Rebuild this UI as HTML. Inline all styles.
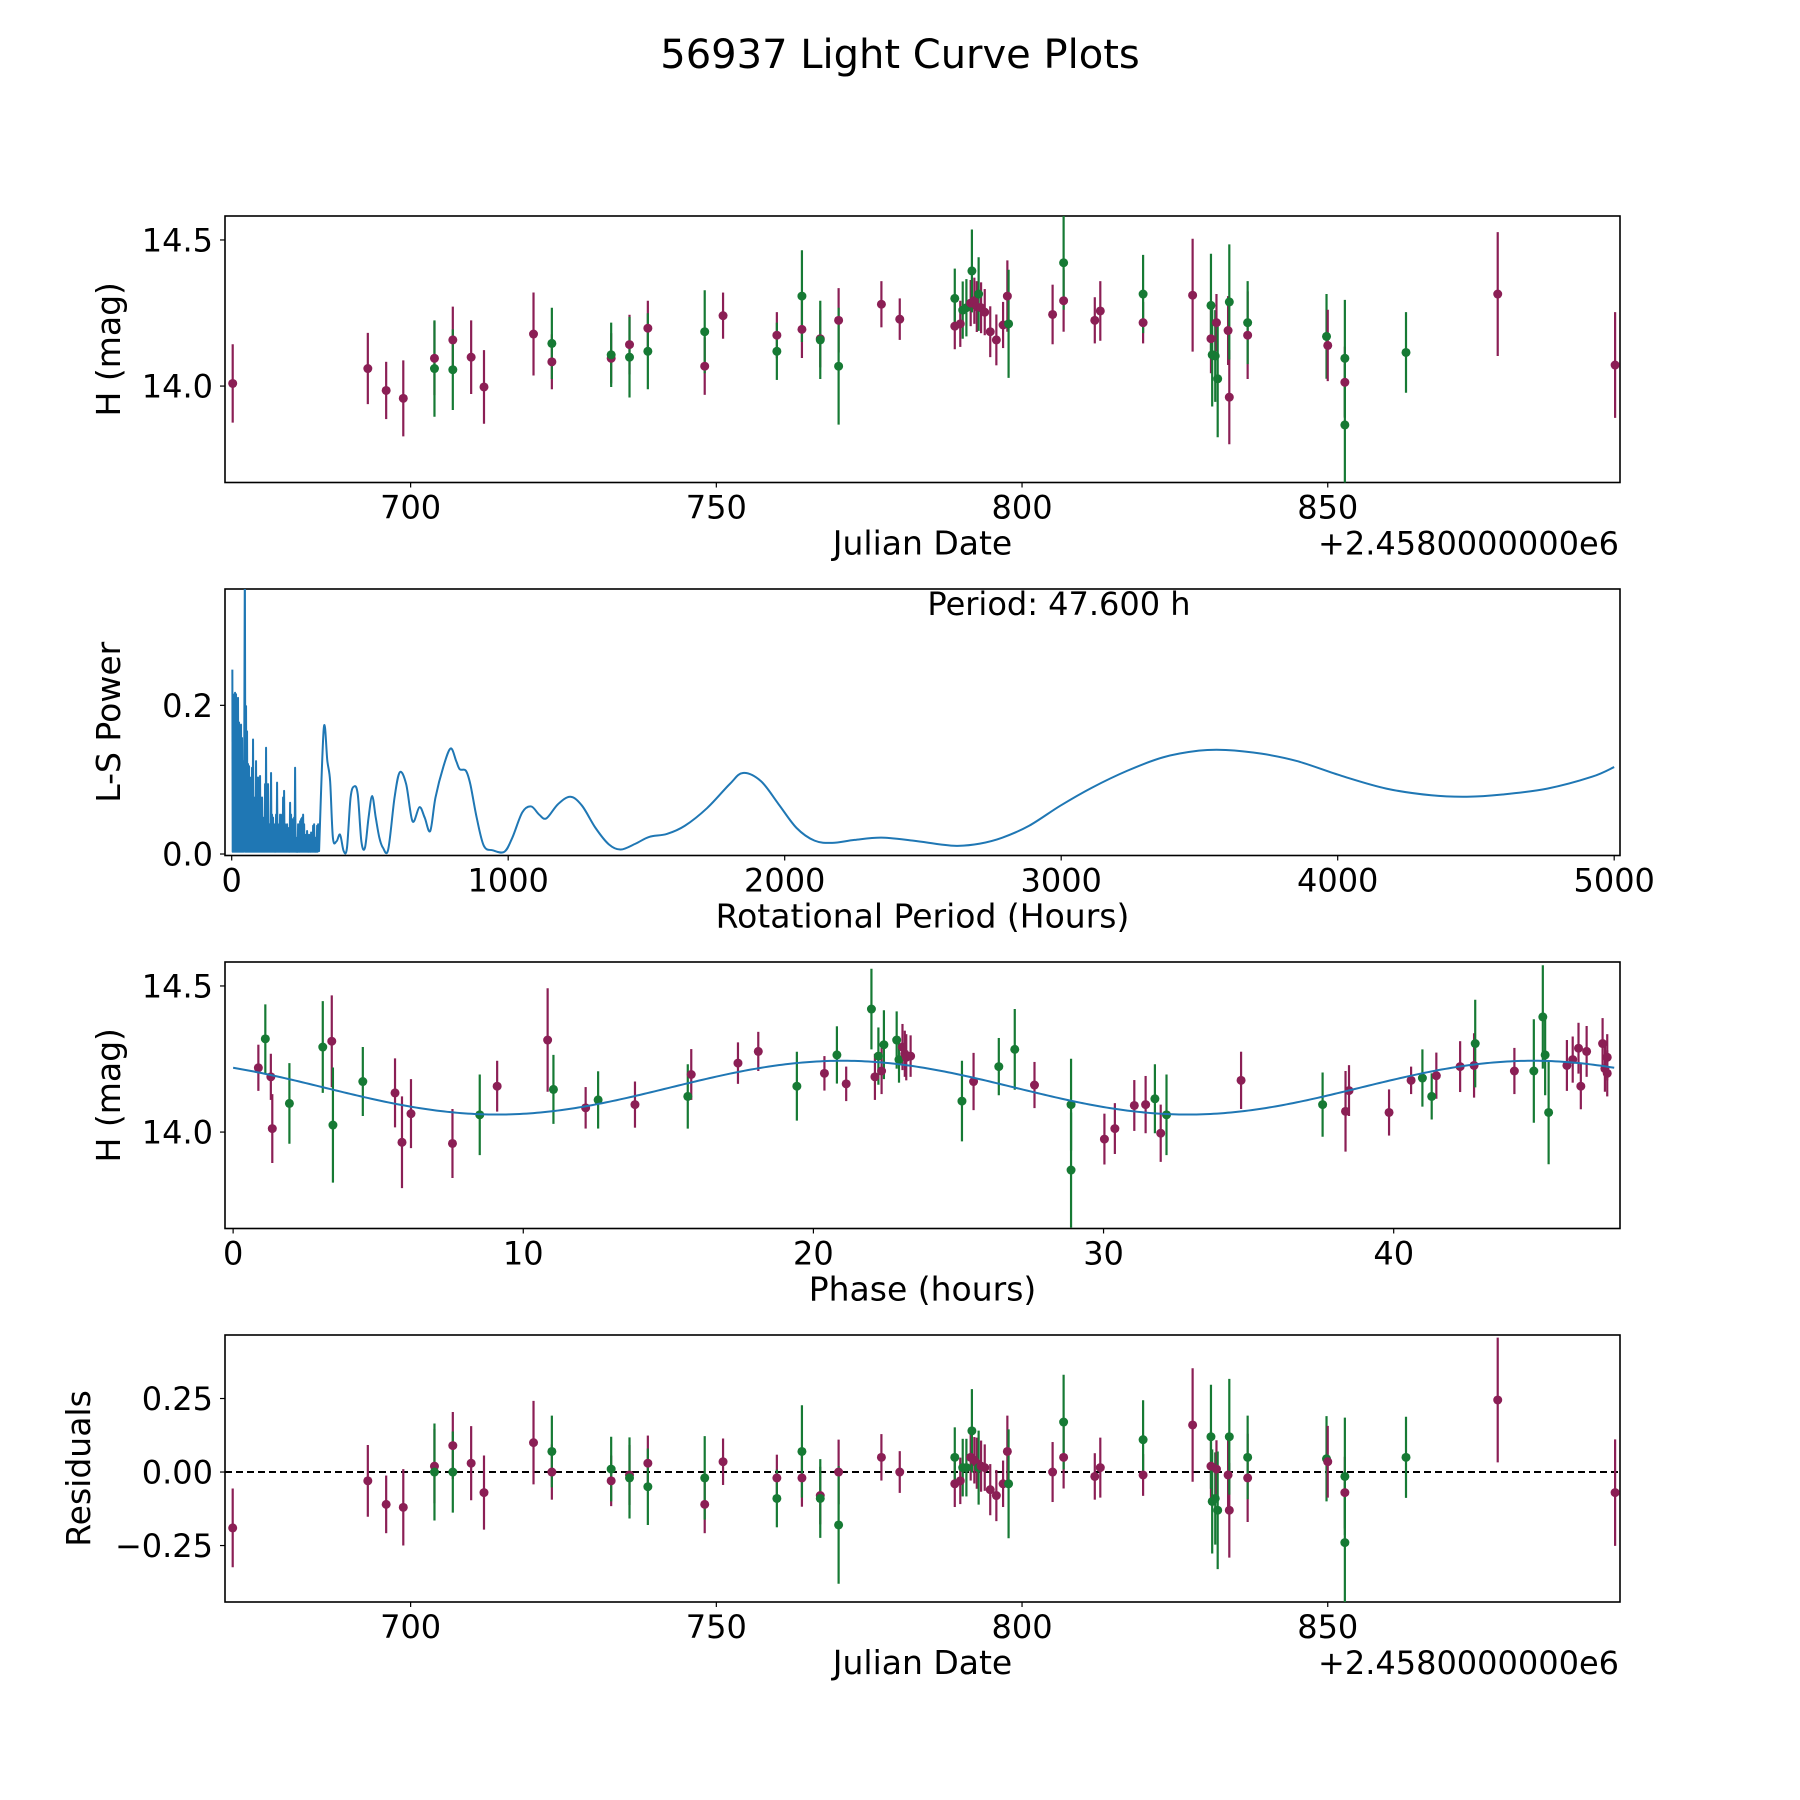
<!DOCTYPE html>
<html><head><meta charset="utf-8"><title>56937 Light Curve Plots</title>
<style>html,body{margin:0;padding:0;background:#fff}svg{display:block}text{font-family:"DejaVu Sans","Liberation Sans",sans-serif;fill:#000}</style>
</head><body>
<svg id="fig" width="1800" height="1800" viewBox="0 0 1800 1800" xmlns="http://www.w3.org/2000/svg">
<rect width="1800" height="1800" fill="#fff"/>
<text x="900" y="68" text-anchor="middle" font-size="40">56937 Light Curve Plots</text>
</svg>
<script>
// ---- Light-curve data (Julian date offset, magnitude, error, filter) ----
const jd = [670.9,693.0,696.0,698.8,703.9,703.9,706.9,706.9,709.9,712.0,720.1,723.1,723.1,732.8,732.8,735.8,735.8,738.8,738.8,748.1,748.1,751.1,759.9,759.9,764.0,764.0,767.0,767.0,770.0,770.0,777.0,780.0,789.0,789.0,789.9,790.3,790.9,791.6,791.8,792.2,792.6,792.9,793.3,793.9,794.8,795.8,796.9,797.6,797.8,805.0,806.8,806.8,811.9,812.8,819.8,819.8,827.9,830.9,830.9,831.1,831.6,831.8,832.0,833.7,833.9,833.9,836.9,836.9,849.8,850.0,852.8,852.8,852.8,862.8,877.8,897.0];
const mag = [14.009,14.060,13.985,13.958,14.095,14.060,14.158,14.056,14.099,13.997,14.178,14.083,14.146,14.095,14.107,14.142,14.099,14.198,14.119,14.068,14.186,14.241,14.174,14.119,14.194,14.308,14.162,14.158,14.225,14.068,14.280,14.229,14.205,14.300,14.213,14.260,14.268,14.284,14.394,14.292,14.272,14.315,14.268,14.253,14.186,14.158,14.209,14.308,14.213,14.245,14.292,14.422,14.225,14.257,14.217,14.315,14.311,14.162,14.276,14.107,14.103,14.217,14.025,14.190,13.962,14.288,14.174,14.217,14.170,14.139,14.013,14.095,13.867,14.115,14.315,14.072];
const magErr = [0.134,0.122,0.098,0.130,0.126,0.165,0.114,0.138,0.126,0.126,0.142,0.094,0.122,0.086,0.110,0.102,0.138,0.094,0.130,0.098,0.142,0.079,0.079,0.098,0.098,0.157,0.098,0.134,0.110,0.200,0.079,0.071,0.079,0.102,0.079,0.098,0.098,0.079,0.142,0.079,0.087,0.126,0.087,0.079,0.087,0.087,0.079,0.122,0.185,0.102,0.106,0.161,0.079,0.102,0.071,0.134,0.193,0.118,0.177,0.177,0.157,0.098,0.200,0.118,0.161,0.197,0.150,0.142,0.145,0.122,0.122,0.200,0.208,0.138,0.212,0.181];
const band = ['p','p','p','p','p','g','p','g','p','p','p','p','g','p','g','p','g','p','g','p','g','p','p','g','p','g','p','g','p','g','p','p','p','g','p','g','g','p','g','p','p','g','p','p','p','p','p','p','g','p','p','g','p','p','p','g','p','p','g','g','g','p','g','p','p','g','p','g','g','p','p','g','g','g','p','p'];
const resid = [-0.19,-0.03,-0.11,-0.12,0.02,0.00,0.09,0.00,0.03,-0.07,0.10,0.00,0.07,-0.03,0.01,-0.01,-0.02,0.03,-0.05,-0.11,-0.02,0.035,-0.02,-0.09,-0.02,0.07,-0.08,-0.09,0.00,-0.18,0.05,0.00,-0.04,0.05,-0.03,0.015,0.015,0.05,0.14,0.04,0.03,0.015,0.02,0.015,-0.06,-0.08,-0.04,0.07,-0.04,0.00,0.05,0.17,-0.015,0.015,-0.01,0.11,0.16,0.02,0.12,-0.10,-0.09,0.01,-0.13,-0.01,-0.13,0.12,-0.02,0.05,0.045,0.035,-0.07,-0.015,-0.24,0.05,0.245,-0.07];

// ---- Periodogram data ----
const noisePeriods = [2.4,4.8,8.4,12.1,15.7,19.3,22.9,26.6,30.2,33.8,37.4,41.0,47.6,51.9,55.5,59.1,62.8,66.4,70.0,73.6,77.2,80.9,84.5,88.1,91.7,95.3,99.0,102.6,106.2,109.8,113.4,117.1,120.7,124.3,127.9,131.5,135.2,138.8,142.4,146.0,149.6,153.3,156.9,160.5,164.1,167.7,171.4,175.0,178.6,182.2,185.9,189.5,193.1,196.7,200.3,204.0,207.6,211.2,214.8,218.4,222.1,225.7,229.3,232.9,236.5,240.2,243.8,247.4,251.0,254.6,258.3,261.9,265.5,269.1,272.7,276.4,280.0,283.6,287.2,290.9,294.5,298.1,301.7,305.3,309.0,312.6];
const noisePower = [0.248,0.215,0.208,0.217,0.215,0.208,0.21,0.177,0.159,0.174,0.156,0.125,0.40,0.199,0.165,0.121,0.118,0.098,0.103,0.116,0.154,0.076,0.044,0.125,0.071,0.103,0.067,0.105,0.049,0.076,0.049,0.044,0.094,0.143,0.049,0.094,0.04,0.04,0.109,0.053,0.049,0.04,0.022,0.053,0.096,0.04,0.035,0.053,0.04,0.053,0.076,0.085,0.04,0.029,0.04,0.035,0.013,0.069,0.053,0.047,0.035,0.049,0.116,0.022,0.004,0.04,0.022,0.044,0.047,0.049,0.053,0.04,0.0085,0.026,0.031,0.017,0.026,0.013,0.029,0.0085,0.038,0.04,0.022,0.011,0.038,0.04];
const noiseFloor = 0.003;
const smoothPeriods = [316,333,346,356,366,379,392,405,417,430,443,456,469,482,495,508,521,534,547,566,589,608,631,654,679,698,718,737,766,792,812,825,847,863,886,912,944,986,1015,1051,1083,1112,1138,1180,1225,1267,1316,1364,1407,1461,1510,1574,1639,1720,1801,1849,1914,1978,2043,2108,2172,2253,2350,2464,2561,2625,2706,2787,2884,2997,3110,3239,3368,3498,3595,3724,3853,4015,4176,4338,4467,4596,4758,4920,5000];
const smoothPower = [0.004,0.169,0.125,0.098,0.022,0.017,0.026,0.004,0.0085,0.076,0.091,0.080,0.017,0.0085,0.049,0.078,0.049,0.022,0.0085,0.006,0.076,0.110,0.094,0.044,0.063,0.049,0.031,0.076,0.118,0.142,0.125,0.114,0.112,0.094,0.049,0.011,0.005,0.003,0.022,0.056,0.064,0.053,0.048,0.067,0.077,0.065,0.035,0.013,0.006,0.014,0.023,0.027,0.038,0.062,0.094,0.109,0.098,0.067,0.035,0.018,0.015,0.019,0.022,0.018,0.013,0.011,0.014,0.022,0.038,0.065,0.089,0.112,0.130,0.139,0.140,0.135,0.125,0.105,0.088,0.079,0.077,0.080,0.088,0.104,0.117];
const bestPeriod = 47.6;

// ---- Phase-folded data ----
const phase = [0.87,1.11,1.3,1.35,1.94,3.09,3.4,3.44,4.47,5.58,5.82,6.13,7.56,8.5,9.1,10.84,11.04,12.15,12.58,13.85,15.67,15.79,17.4,18.1,19.43,20.38,20.81,21.13,22.0,22.12,22.24,22.35,22.43,22.87,22.95,23.07,23.15,23.2,23.35,25.12,25.52,26.39,26.94,27.62,28.88,28.88,30.03,30.39,31.06,31.45,31.77,31.97,32.17,34.74,37.55,38.34,38.46,39.84,40.6,40.99,41.31,41.47,42.29,42.77,42.81,44.16,44.83,45.14,45.22,45.34,45.97,46.17,46.37,46.45,46.65,47.2,47.28,47.36,47.36];
const phaseMag = [14.220,14.319,14.189,14.012,14.098,14.291,14.311,14.024,14.173,14.134,13.965,14.063,13.961,14.059,14.157,14.315,14.146,14.083,14.110,14.094,14.122,14.197,14.236,14.276,14.157,14.201,14.264,14.165,14.421,14.189,14.260,14.209,14.299,14.315,14.248,14.291,14.268,14.256,14.260,14.106,14.173,14.224,14.283,14.161,13.870,14.094,13.976,14.012,14.091,14.094,14.114,13.996,14.059,14.177,14.094,14.071,14.142,14.067,14.177,14.185,14.122,14.193,14.224,14.228,14.303,14.209,14.209,14.394,14.264,14.067,14.228,14.248,14.287,14.157,14.276,14.303,14.217,14.256,14.201];
const phaseErr = [0.079,0.118,0.079,0.118,0.138,0.157,0.157,0.197,0.118,0.118,0.157,0.118,0.118,0.138,0.087,0.177,0.118,0.071,0.098,0.079,0.110,0.087,0.071,0.067,0.118,0.059,0.098,0.059,0.138,0.079,0.098,0.079,0.118,0.098,0.079,0.079,0.079,0.079,0.071,0.138,0.098,0.098,0.138,0.079,0.197,0.157,0.087,0.087,0.087,0.098,0.118,0.098,0.138,0.098,0.110,0.138,0.087,0.079,0.047,0.098,0.079,0.079,0.087,0.110,0.150,0.079,0.177,0.177,0.138,0.177,0.087,0.079,0.087,0.079,0.087,0.087,0.079,0.079,0.079];
const phaseBand = ['p','g','p','p','g','g','p','g','g','p','p','p','p','g','p','p','g','p','g','p','g','p','p','p','g','p','g','p','g','p','g','p','g','g','g','p','p','p','p','g','p','g','g','p','g','g','p','p','p','p','g','p','g','p','g','p','p','p','p','g','g','p','p','p','g','p','g','g','g','g','p','p','p','p','p','p','p','p','p'];
const modelMean = 14.152, modelAmp = 0.092, modelPeriod = 23.8, modelPeak = 21.0;

const NS = 'http://www.w3.org/2000/svg';
const svg = document.getElementById('fig');
const COL = {p:'#8b1f55', g:'#167a34'};
function mk(tag, attrs, parent){const e=document.createElementNS(NS,tag);for(const k in attrs)e.setAttribute(k,attrs[k]);(parent||svg).appendChild(e);return e;}
function txt(s, attrs){const e=mk('text',attrs);e.textContent=s;return e;}

const L=225, R=1620;
const boxes=[{t:216,b:482.5},{t:589,b:855.5},{t:962,b:1228.5},{t:1335,b:1602}];
function lin(d0,d1,p0,p1){return v=>p0+(v-d0)*(p1-p0)/(d1-d0);}
const xJD = lin(669.64,897.8,L,R);
const xPer = lin(-24.2,5021,L,R);
const xPh = lin(-0.28,47.8,L,R);
const yMag1 = lin(13.670,14.582,boxes[0].b,boxes[0].t);
const yPow = lin(-0.002,0.3565,boxes[1].b,boxes[1].t);
const yMag3 = lin(13.670,14.582,boxes[2].b,boxes[2].t);
const yRes = lin(-0.442,0.466,boxes[3].b,boxes[3].t);

function frame(i,name){
  const b=boxes[i];
  const g=mk('g',{});
  
  
  const r=mk('rect',{x:L,y:b.t,width:R-L,height:b.b-b.t,fill:'none',stroke:'#000','stroke-width':1.6},g);
  
  
  return g;
}
function xticks(i,vals,labels,xf,name){
  const b=boxes[i];
  vals.forEach((v,k)=>{
    const x=xf(v);
    const t=mk('line',{x1:x,x2:x,y1:b.b,y2:b.b+5,stroke:'#000','stroke-width':1.2});
    
    
    const l=txt(labels[k],{x:x,y:b.b+36,'text-anchor':'middle','font-size':32});
    
    
  });
}
function yticks(i,vals,labels,yf,name){
  vals.forEach((v,k)=>{
    const y=yf(v);
    const t=mk('line',{x1:L-5,x2:L,y1:y,y2:y,stroke:'#000','stroke-width':1.2});
    
    
    const l=txt(labels[k],{x:213,y:y+11.5,'text-anchor':'end','font-size':32});
    
    
  });
}
function ylabel(i,s,x,name){
  const b=boxes[i];const cy=(b.t+b.b)/2;
  const l=txt(s,{x:x,y:cy,'text-anchor':'middle','font-size':33,transform:'rotate(-90 '+x+' '+cy+')'});
  
  
}
function xlabel(i,s,name){
  const l=txt(s,{x:(L+R)/2,y:boxes[i].b+72,'text-anchor':'middle','font-size':33});
  
  
}
function offsetText(i){
  const l=txt('+2.4580000000e6',{x:1619,y:boxes[i].b+72,'text-anchor':'end','font-size':32});
  
  
}
function clipFor(i){
  const b=boxes[i];
  const c=mk('clipPath',{id:'clip'+i});
  mk('rect',{x:L,y:b.t,width:R-L,height:b.b-b.t},c);
  return 'url(#clip'+i+')';
}
function errPoints(g,xs,ys,es,bands,xf,yf,name){
  xs.forEach((xv,k)=>{
    const c=COL[bands[k]];
    const x=xf(xv);
    const bar=mk('line',{x1:x,x2:x,y1:yf(ys[k]-es[k]),y2:yf(ys[k]+es[k]),stroke:c,'stroke-width':2.2},g);
    
    
  });
  xs.forEach((xv,k)=>{
    const dot=mk('circle',{cx:xf(xv),cy:yf(ys[k]),r:4.5,fill:COL[bands[k]]},g);
    
    
  });
}

// Panel 1
frame(0,'light-curve-panel');
const g1=mk('g',{'clip-path':clipFor(0)});
errPoints(g1,jd,mag,magErr,band,xJD,yMag1,'light-curve');
xticks(0,[700,750,800,850],['700','750','800','850'],xJD,'jd-x');
yticks(0,[14.0,14.5],['14.0','14.5'],yMag1,'mag-y');
ylabel(0,'H (mag)',120,'mag-y-axis-title');
xlabel(0,'Julian Date','jd-x-axis-title');
offsetText(0);

// Panel 2
frame(1,'periodogram-panel');
const g2=mk('g',{'clip-path':clipFor(1)});
let pts=[];
noisePeriods.forEach((p,k)=>{
  if(k>0){const mid=(noisePeriods[k-1]+p)/2;pts.push([xPer(mid),yPow(noiseFloor)]);}
  pts.push([xPer(p),yPow(noisePower[k])]);
});
let d='M'+pts.map(q=>q[0].toFixed(2)+','+q[1].toFixed(2)).join(' L');
const sp=smoothPeriods.map((p,k)=>[xPer(p),yPow(smoothPower[k])]);
d+=' L'+sp[0][0].toFixed(2)+','+sp[0][1].toFixed(2);
for(let k=0;k<sp.length-1;k++){
  const p0=sp[Math.max(0,k-1)],p1=sp[k],p2=sp[k+1],p3=sp[Math.min(sp.length-1,k+2)];
  const c1=[p1[0]+(p2[0]-p0[0])/6,p1[1]+(p2[1]-p0[1])/6];
  const c2=[p2[0]-(p3[0]-p1[0])/6,p2[1]-(p3[1]-p1[1])/6];
  d+=' C'+c1[0].toFixed(2)+','+c1[1].toFixed(2)+' '+c2[0].toFixed(2)+','+c2[1].toFixed(2)+' '+p2[0].toFixed(2)+','+p2[1].toFixed(2);
}
const pl=mk('path',{d:d,fill:'none',stroke:'#1f77b4','stroke-width':2,'stroke-linejoin':'round'},g2);


xticks(1,[0,1000,2000,3000,4000,5000],['0','1000','2000','3000','4000','5000'],xPer,'period-x');
yticks(1,[0.0,0.2],['0.0','0.2'],yPow,'power-y');
ylabel(1,'L-S Power',120,'power-y-axis-title');
xlabel(1,'Rotational Period (Hours)','period-x-axis-title');
const pt=txt('Period: '+bestPeriod.toFixed(3)+' h',{x:1059,y:615,'text-anchor':'middle','font-size':32});



// Panel 3
frame(2,'phase-panel');
const g3=mk('g',{'clip-path':clipFor(2)});
errPoints(g3,phase,phaseMag,phaseErr,phaseBand,xPh,yMag3,'phase');
let mp=[];
for(let s=0;s<=400;s++){const ph=bestPeriod*s/400;mp.push(xPh(ph).toFixed(2)+','+yMag3(modelMean+modelAmp*Math.cos(2*Math.PI*(ph-modelPeak)/modelPeriod)).toFixed(2));}
const ml=mk('polyline',{points:mp.join(' '),fill:'none',stroke:'#1f77b4','stroke-width':2},g3);


xticks(2,[0,10,20,30,40],['0','10','20','30','40'],xPh,'phase-x');
yticks(2,[14.0,14.5],['14.0','14.5'],yMag3,'phase-mag-y');
ylabel(2,'H (mag)',120,'phase-mag-y-axis-title');
xlabel(2,'Phase (hours)','phase-x-axis-title');

// Panel 4
frame(3,'residuals-panel');
const g4=mk('g',{'clip-path':clipFor(3)});
const zl=mk('line',{x1:L,x2:R,y1:yRes(0),y2:yRes(0),stroke:'#000','stroke-width':2,'stroke-dasharray':'7,4'},g4);


errPoints(g4,jd,resid,magErr,band,xJD,yRes,'residual');
xticks(3,[700,750,800,850],['700','750','800','850'],xJD,'res-jd-x');
yticks(3,[-0.25,0,0.25],['\u22120.25','0.00','0.25'],yRes,'res-y');
ylabel(3,'Residuals',90,'residuals-y-axis-title');
xlabel(3,'Julian Date','res-jd-x-axis-title');
offsetText(3);
</script>
</body></html>
